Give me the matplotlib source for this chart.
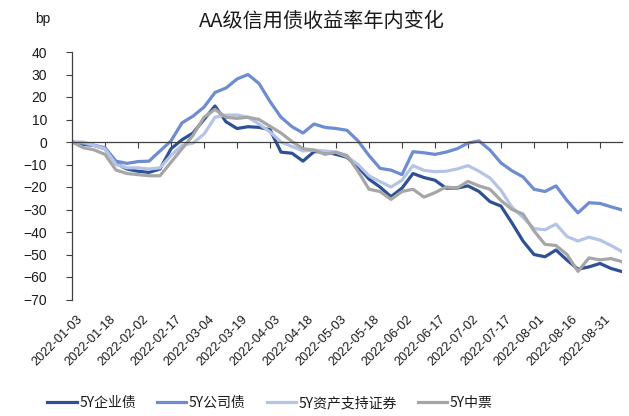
import numpy as np
import pandas as pd
import matplotlib
matplotlib.use("Agg")
import matplotlib.pyplot as plt
import matplotlib.dates as mdates
from matplotlib.transforms import blended_transform_factory

plt.rcParams["font.family"] = ["Liberation Sans", "Noto Sans CJK SC", "DejaVu Sans"]
CJK = ["Noto Sans CJK SC", "DejaVu Sans"]

# sample dates, every 5 calendar days from 2022-01-03
dates = pd.date_range("2022-01-03", periods=51, freq="5D")

# yield change since start of year, bp
qiye = [0, -1, -1.5, -3, -9.5, -12, -13, -13.5, -12, -3,
        1, 4, 10, 16, 9, 6, 6.8, 6.5, 5.5, -4.5,
        -5, -8.5, -4.3, -4.3, -5.5, -6.8, -11, -16.5, -20, -24.3,
        -20.5, -14, -15.8, -17, -20.5, -20.5, -19.5, -22, -26.5, -28.5,
        -36, -44, -50, -51, -48, -52.5, -56.5, -55.5, -54, -56.2, -57.6]
gongsi = [0, -0.5, -1.5, -2.5, -8.5, -9.5, -8.7, -8.5, -4, 0.5,
          8.5, 11.5, 15.5, 22, 24, 28, 30, 26, 18, 11,
          6.8, 4, 8, 6.5, 6, 5.2, 0.5, -6, -11.7, -12.5,
          -14.5, -4.3, -4.8, -5.5, -4.5, -3, -0.5, 0.5, -3.6, -9.3,
          -12.8, -15.5, -21, -22, -19.5, -26, -31.5, -27, -27.3, -28.8, -30.2]
abs_ = [0, 0, -1.5, -3, -10, -11.5, -11.5, -12, -11.5, -6,
        -1.5, -0.5, 3.5, 11, 12, 12, 11, 8, 4.5, 0,
        -2, -4, -3.6, -4, -4.5, -6.5, -10, -15, -17.6, -20,
        -17, -10.5, -12.6, -13.2, -13, -12, -10.5, -13, -16, -21.5,
        -29, -33.5, -38.5, -39, -36.5, -42, -44, -42.3, -43.6, -46, -48.7]
zhongpiao = [0, -2.5, -3.5, -5.5, -12.5, -14, -14.5, -15, -15, -9,
             -3, 3, 11, 14.5, 11, 10.5, 11, 10, 7, 4,
             0.2, -3, -3.6, -5.5, -4.5, -6, -13, -21, -22, -25.5,
             -22, -21, -24.5, -22.5, -20, -20.5, -17.5, -19.5, -21, -26,
             -30, -32, -39.5, -45.5, -46, -50, -57.5, -51.5, -52.4, -51.8, -53.2]

names = ["5Y企业债", "5Y公司债", "5Y资产支持证券", "5Y中票"]
colors = ["#2E5094", "#6D8CD2", "#B4C4E6", "#A6A6A6"]
TXT = "#1a1a1a"

fig = plt.figure(figsize=(6.29, 4.16), dpi=100)
ax = fig.add_axes([72 / 629, 1 - 299.5 / 416, (622 - 72) / 629, (299.5 - 52) / 416])

for vals, name, c in zip([qiye, gongsi, abs_, zhongpiao], names, colors):
    ax.plot(dates, vals, color=c, lw=2.3, label=name, solid_joinstyle="round")

ax.set_ylim(-70, 40)
ax.set_yticks(np.arange(-70, 41, 10))
ax.set_xlim(pd.Timestamp("2022-01-03"), pd.Timestamp("2022-09-10"))

xt = pd.date_range("2022-01-03", "2022-08-31", freq="15D")
ax.set_xticks(xt)
ax.spines["bottom"].set_position(("data", 0))
ax.spines["top"].set_visible(False)
ax.spines["right"].set_visible(False)
for s in ["bottom", "left"]:
    ax.spines[s].set_color("#404040")
    ax.spines[s].set_linewidth(0.9)
ax.tick_params(axis="x", direction="out", length=4, color="#404040", labelbottom=False)
ax.tick_params(axis="y", direction="out", length=4, color="#404040", labelsize=10,
               labelcolor=TXT, pad=14)

# date labels at the bottom of the plot
trans = blended_transform_factory(ax.transData, ax.transAxes)
for d in xt:
    ax.text(mdates.date2num(d) + 2, -0.055, d.strftime("%Y-%m-%d"), transform=trans,
            rotation=45, ha="right", va="top", rotation_mode="anchor",
            fontsize=9.2, color=TXT)

fig.text(322 / 629, 1 - 21 / 416, "AA级信用债收益率年内变化", ha="center", va="center",
         fontsize=14.5, color=TXT, family=CJK)
fig.text(43 / 629, 1 - 19 / 416, "bp", ha="center", va="center", fontsize=10, color=TXT)

leg = fig.legend(loc="center", bbox_to_anchor=(270 / 629, 1 - 403 / 416), ncol=4,
                 frameon=False, handlelength=2.1, columnspacing=1.5, handletextpad=0.2,
                 prop={"family": CJK, "size": 10})
for t in leg.get_texts():
    t.set_color(TXT)

fig.savefig("out.png", dpi=100)
